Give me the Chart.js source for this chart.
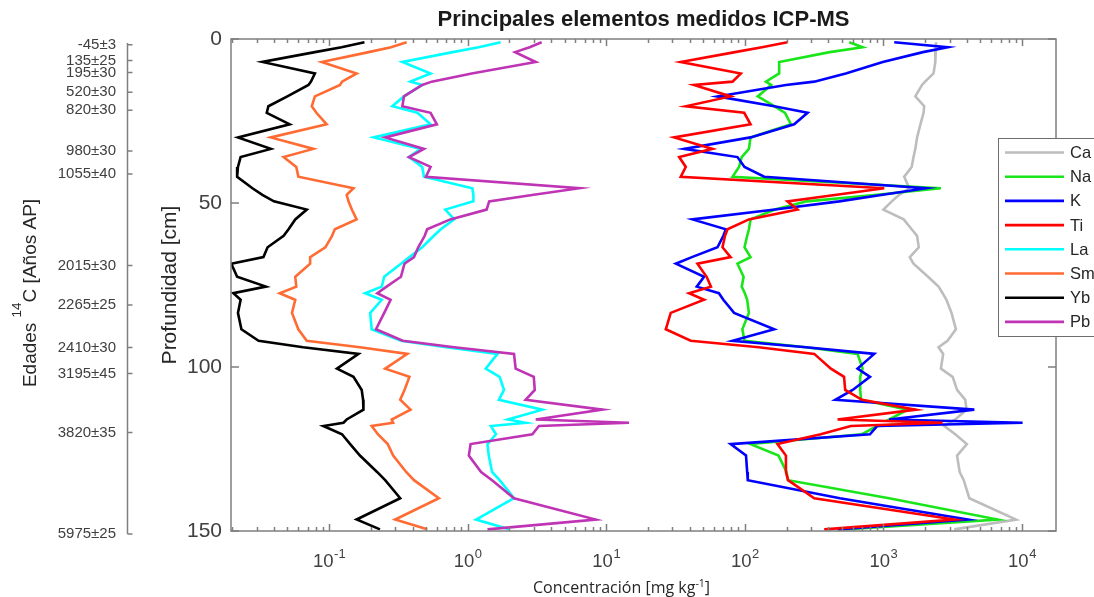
<!DOCTYPE html>
<html>
<head>
<meta charset="utf-8">
<title>Principales elementos medidos ICP-MS</title>
<script src="https://cdn.jsdelivr.net/npm/chart.js@4.4.1/dist/chart.umd.min.js"></script>
<style>
  html, body { margin: 0; padding: 0; background: #fff; }
  #wrap { width: 1094px; height: 597px; }
</style>
</head>
<body>
<div id="wrap"><canvas id="chart" width="1094" height="597"></canvas></div>
<script>
// profundidad de cada muestra [cm]
const depth = [1, 2.5, 4, 7, 10.5, 13, 14, 17.5, 20.5, 22.5, 26, 30, 33.5, 36, 39, 42, 45.5, 47.5, 49.5, 52,
  55, 58, 60, 63.5, 66.5, 68.5, 72.5, 75.5, 77.5, 79.5, 83.5, 88.5, 92, 94, 96, 100.5, 103, 107, 110, 113,
  116, 117, 118, 120.5, 123.5, 127, 132, 134.5, 140, 146.5, 149.5];

// concentraciones [mg/kg]
const ca = [2400, 2393, 2380, 2360, 2300, 2000, 1900, 1700, 1970, 1950, 1850, 1750, 1700, 1650, 1600, 1413, 1536, 1300, 1150, 1000,
  1400, 1600, 1750, 1800, 1550, 1650, 2100, 2500, 2675, 2850, 3100, 3337, 2900, 2500, 2700, 2600, 3160, 3400, 3900, 3980,
  3300, 3000, 2754, 3300, 4000, 3400, 3550, 3800, 4170, 9060, 3245];
const na = [567, 708, 410, 177, 177, 142, 155, 124, 163, 195, 215, 110, 107, 95, 90.8, 81.5, 2600, 900, 280, 165,
  110, 107, 104, 99.5, 110, 88.5, 98, 95, 100, 104, 107, 96, 99.5, 276, 651, 708, 680, 680, 690, 1500,
  1100, 1800, 900, 700, 110, 175, 200, 205, 1100, 6670, 520];
const k = [1197, 2910, 1930, 990, 535, 317, 198, 63.5, 163, 284, 227, 110, 36.5, 88.5, 99.5, 138, 2027, 990, 480, 165,
  41.9, 73, 70, 63.5, 41.5, 31.8, 50.8, 45, 65, 70, 83.7, 163, 81.5, 276, 859, 651, 800, 600, 450, 4530,
  1100, 10100, 900, 800, 79, 102, 104, 105, 485, 4055, 467];
const ti = [203, 133, 85, 34.5, 93.5, 81.5, 43, 79, 37.5, 99, 110, 30.9, 58.5, 33.6, 37.5, 34.5, 1014, 460, 203, 240,
  107, 75, 72, 69, 79, 45.5, 53, 57, 39.6, 50.8, 29.2, 26.9, 40.7, 126, 317, 418, 520, 530, 700, 1718,
  467, 2675, 582, 353, 172, 198, 198, 205, 317, 3245, 374];
const la = [1.73, 1.2, 0.78, 0.338, 0.54, 0.387, 0.47, 0.347, 0.286, 0.434, 0.54, 0.21, 0.458, 0.377, 0.47, 0.484, 1.08, 1.1, 1.1, 0.69,
  0.8, 0.64, 0.57, 0.47, 0.38, 0.33, 0.25, 0.24, 0.182, 0.24, 0.198, 0.203, 0.33, 0.7, 1.64, 1.35, 1.7, 1.83, 1.68, 3.46,
  1.95, 2.62, 1.47, 1.6, 1.39, 1.42, 1.5, 1.7, 2.16, 1.15, 1.99];
const sm = [0.363, 0.28, 0.193, 0.0886, 0.158, 0.124, 0.12, 0.079, 0.075, 0.081, 0.096, 0.038, 0.077, 0.047, 0.058, 0.06, 0.15, 0.134, 0.138, 0.146,
  0.158, 0.11, 0.105, 0.094, 0.073, 0.073, 0.057, 0.058, 0.044, 0.057, 0.054, 0.06, 0.069, 0.167, 0.367, 0.254, 0.38, 0.35, 0.326, 0.387,
  0.283, 0.29, 0.203, 0.225, 0.265, 0.29, 0.36, 0.41, 0.62, 0.3, 0.51];
const yb = [0.18, 0.123, 0.079, 0.033, 0.079, 0.074, 0.071, 0.05, 0.0365, 0.0355, 0.052, 0.022, 0.038, 0.023, 0.022, 0.0217, 0.028, 0.033, 0.04, 0.069,
  0.057, 0.051, 0.047, 0.036, 0.0336, 0.0197, 0.0217, 0.035, 0.0204, 0.023, 0.022, 0.0233, 0.031, 0.065, 0.163, 0.114, 0.15, 0.172, 0.176, 0.177,
  0.134, 0.127, 0.091, 0.124, 0.142, 0.167, 0.222, 0.254, 0.326, 0.158, 0.233];
const pb = [3.42, 2.8, 2.2, 3.1, 1.07, 0.55, 0.47, 0.347, 0.338, 0.54, 0.6, 0.254, 0.484, 0.377, 0.54, 0.5, 6.4, 3.0, 1.43, 1.37,
  0.75, 0.51, 0.49, 0.44, 0.41, 0.35, 0.33, 0.26, 0.223, 0.278, 0.25, 0.218, 0.34, 0.8, 2.16, 2.22, 3.0, 3.05, 2.62, 9.4,
  3.1, 14.6, 3.27, 2.93, 1.05, 1.02, 1.25, 1.5, 2.16, 8.4, 1.39];

const elements = ['Ca', 'Na', 'K', 'Ti', 'La', 'Sm', 'Yb', 'Pb'];
const series = [ca, na, k, ti, la, sm, yb, pb];
const colors = ['#bdbdbd', '#19e619', '#0000ff', '#ff0000', '#00ffff', '#ff6b33', '#000000', '#bf33b5'];

// edades 14C y la profundidad a la que corresponden
const ageDepth = [0.5, 5.3, 9, 15, 20.5, 33, 40, 68, 80, 93, 101, 119, 150];
const ageLabels = ['-45±3', '135±25', '195±30', '520±30', '820±30', '980±30', '1055±40',
  '2015±30', '2265±25', '2410±30', '3195±45', '3820±35', '5975±25'];

const decades = [-1, 0, 1, 2, 3, 4];
const xMin = 0.0196, xMax = 17600;

const FONT = '"Liberation Sans", Arial, Helvetica, sans-serif';
Chart.defaults.font.family = FONT;

const datasets = elements.map((name, i) => ({
  label: name,
  data: depth.map((d, j) => ({ x: series[i][j], y: d })),
  borderColor: colors[i],
  backgroundColor: colors[i],
  borderWidth: 2.6,
  pointRadius: 0,
  tension: 0,
  fill: false,
  order: elements.length - i
}));

// caja de ejes con marcas hacia dentro, eje de edades y etiquetas 10^n
const boxAxes = {
  id: 'boxAxes',
  afterDatasetsDraw(chart) {
    const { ctx, chartArea: a, scales } = chart;
    const xs = scales.x, ys = scales.y, ages = scales.age;
    ctx.save();
    ctx.strokeStyle = '#7f7f7f';
    ctx.lineWidth = 1.5;
    ctx.strokeRect(a.left, a.top, a.right - a.left, a.bottom - a.top);

    ctx.beginPath();
    for (let e = -2; e <= 4; e++) {
      for (let m = 1; m <= 9; m++) {
        const v = m * Math.pow(10, e);
        if (v < xs.min || v > xs.max) continue;
        const px = Math.round(xs.getPixelForValue(v)) + 0.5;
        const len = m === 1 ? 7 : 4;
        ctx.moveTo(px, a.bottom); ctx.lineTo(px, a.bottom - len);
        ctx.moveTo(px, a.top); ctx.lineTo(px, a.top + len);
      }
    }
    ys.ticks.forEach(t => {
      const py = ys.getPixelForValue(t.value);
      ctx.moveTo(a.left, py); ctx.lineTo(a.left + 8, py);
      ctx.moveTo(a.right, py); ctx.lineTo(a.right - 8, py);
    });

    // eje de edades
    const ax = ages.right + 0.5;
    ctx.moveTo(ax, ages.getPixelForValue(0));
    ctx.lineTo(ax, ages.getPixelForValue(150));
    ages.ticks.forEach(t => {
      const py = ages.getPixelForValue(t.value);
      ctx.moveTo(ax, py); ctx.lineTo(ax + 5, py);
    });
    ctx.stroke();

    // etiquetas del eje x
    ctx.fillStyle = '#404040';
    ctx.textBaseline = 'alphabetic';
    ctx.textAlign = 'left';
    decades.forEach(e => {
      const px = xs.getPixelForValue(Math.pow(10, e));
      ctx.font = '18.5px ' + FONT;
      const wb = ctx.measureText('10').width;
      ctx.font = '13px ' + FONT;
      const we = ctx.measureText(String(e)).width;
      const x0 = px - (wb + we) / 2;
      ctx.font = '18.5px ' + FONT;
      ctx.fillText('10', x0, a.bottom + 35.5);
      ctx.font = '13px ' + FONT;
      ctx.fillText(String(e), x0 + wb + 0.5, a.bottom + 26.5);
    });

    // título del eje x
    ctx.fillStyle = '#262626';
    const tf = '16px "Open Sans", "Noto Sans", sans-serif';
    const sf = '10.5px "Open Sans", "Noto Sans", sans-serif';
    ctx.font = tf;
    const t1 = 'Concentración [mg kg', t2 = ']';
    const w1 = ctx.measureText(t1).width, w3 = ctx.measureText(t2).width;
    ctx.font = sf;
    const w2 = ctx.measureText('-1').width;
    let tx = (a.left + a.right) / 2 - 22 - (w1 + w2 + w3) / 2;
    const ty = a.bottom + 62;
    ctx.font = tf; ctx.fillText(t1, tx, ty); tx += w1;
    ctx.font = sf; ctx.fillText('-1', tx, ty - 6.5); tx += w2;
    ctx.font = tf; ctx.fillText(t2, tx, ty);

    // título del eje de edades
    ctx.translate(ages.left + 36, (a.top + a.bottom) / 2 + 8);
    ctx.rotate(-Math.PI / 2);
    const mf = '19px ' + FONT, pf = '13.5px ' + FONT;
    ctx.font = mf;
    const p1 = 'Edades ', p3 = 'C [Años AP]';
    const v1 = ctx.measureText(p1).width, v3 = ctx.measureText(p3).width;
    ctx.font = pf;
    const v2 = ctx.measureText('14').width;
    let sx = -(v1 + v2 + v3) / 2;
    ctx.font = mf; ctx.fillText(p1, sx, 0); sx += v1;
    ctx.font = pf; ctx.fillText('14', sx, -15); sx += v2;
    ctx.font = mf; ctx.fillText(p3, sx, 0);
    ctx.restore();
  }
};

// leyenda superpuesta al borde derecho
const sideLegend = {
  id: 'sideLegend',
  afterDraw(chart) {
    const { ctx, chartArea: a } = chart;
    const left = a.right - 58, top = a.top + 99, h = 198;
    ctx.save();
    ctx.fillStyle = '#ffffff';
    ctx.fillRect(left, top, chart.width - left + 5, h);
    ctx.strokeStyle = '#6e6e6e';
    ctx.lineWidth = 1;
    ctx.strokeRect(left + 0.5, top + 0.5, chart.width - left + 5, h);
    ctx.font = '16.5px ' + FONT;
    ctx.textBaseline = 'middle';
    ctx.textAlign = 'left';
    chart.data.datasets.forEach((ds, i) => {
      const y = top + 14.5 + i * 24.2;
      ctx.strokeStyle = ds.borderColor;
      ctx.lineWidth = 2.6;
      ctx.beginPath();
      ctx.moveTo(left + 7, y);
      ctx.lineTo(left + 66, y);
      ctx.stroke();
      ctx.fillStyle = '#262626';
      ctx.fillText(ds.label, left + 72, y + 1);
    });
    ctx.restore();
  }
};

new Chart(document.getElementById('chart'), {
  type: 'line',
  data: { datasets },
  options: {
    responsive: false,
    animation: false,
    indexAxis: 'y',
    layout: { padding: { left: 0, right: 38, top: 0, bottom: 0 } },
    plugins: {
      legend: { display: false },
      tooltip: { enabled: false },
      title: {
        display: true,
        fullSize: false,
        text: 'Principales elementos medidos ICP-MS',
        color: '#1a1a1a',
        font: { size: 22, weight: 'bold' },
        padding: { top: 7, bottom: 5.6 }
      }
    },
    scales: {
      x: {
        type: 'logarithmic',
        position: 'bottom',
        min: xMin,
        max: xMax,
        grid: { display: false, drawTicks: false },
        border: { display: false },
        ticks: { display: false },
        afterFit: s => { s.height = 66; }
      },
      y: {
        type: 'linear',
        position: 'left',
        reverse: true,
        min: 0,
        max: 150,
        weight: 0,
        grid: { display: false, drawTicks: false },
        border: { display: false },
        ticks: { stepSize: 50, padding: 9, color: '#404040', font: { size: 21 } },
        title: {
          display: true,
          text: 'Profundidad [cm]',
          color: '#262626',
          font: { size: 21 },
          padding: { top: 31, bottom: 0 }
        },
        afterFit: s => { s.width = 104; }
      },
      age: {
        type: 'linear',
        position: 'left',
        reverse: true,
        min: -1.24,
        max: 149.09,
        weight: 1,
        grid: { display: false, drawTicks: false },
        border: { display: false },
        afterBuildTicks: s => { s.ticks = ageDepth.map(v => ({ value: v })); },
        ticks: {
          autoSkip: false,
          padding: 11,
          color: '#404040',
          font: { size: 15 },
          callback: (v, i) => ageLabels[i]
        },
        afterFit: s => { s.width = 127; }
      }
    }
  },
  plugins: [boxAxes, sideLegend]
});
</script>
</body>
</html>
